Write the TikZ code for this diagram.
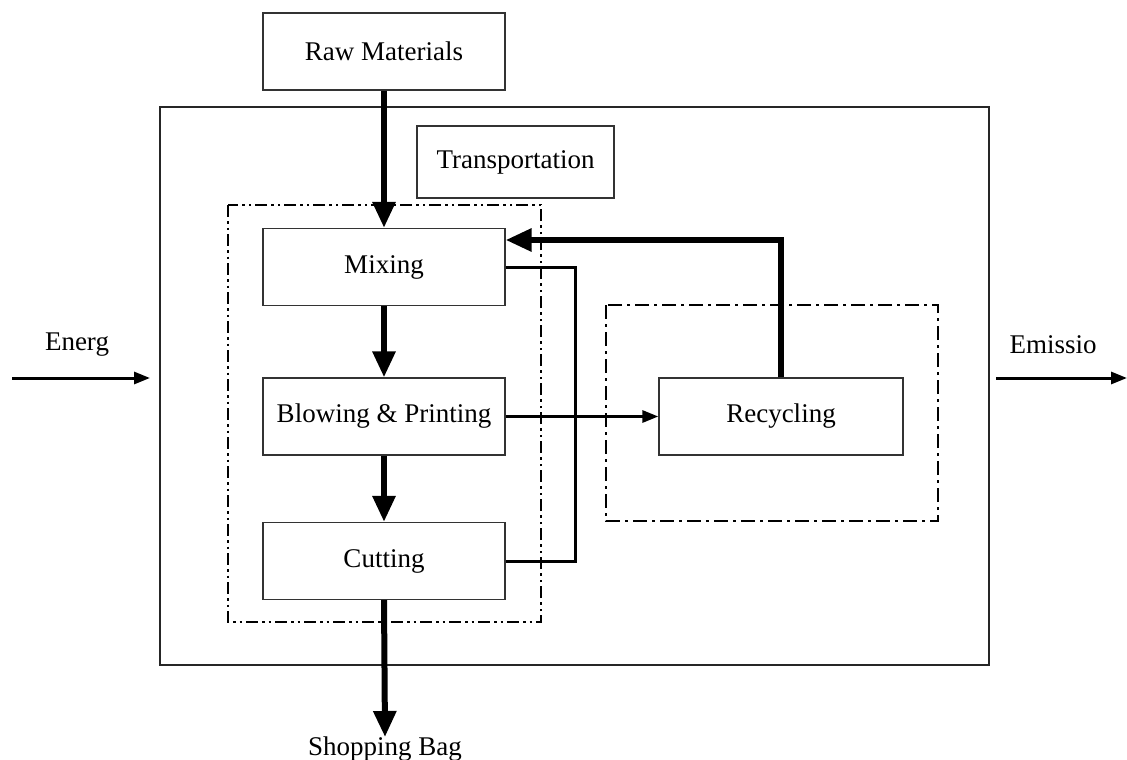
\documentclass[tikz,border=0pt]{standalone}
\usepackage{fontspec}
\setmainfont{Liberation Serif}
\usetikzlibrary{arrows.meta}
\begin{document}
\begin{tikzpicture}[x=1pt,y=-1pt,
  proc/.style={draw=black!80,line width=1.3pt,minimum width=242pt,minimum height=77pt,inner sep=0pt,font=\fontsize{27}{32}\selectfont},
  lbl/.style={inner sep=0pt,font=\fontsize{27}{32}\selectfont},
  thick arrow/.style={line width=6pt,-{Triangle[length=26pt,width=22pt]}},
  mid arrow/.style={line width=3pt,-{Triangle[length=16pt,width=12pt]}},
  midline/.style={line width=3pt},
  dashdotdot/.style={line width=2.2pt,dash pattern=on 12pt off 4pt on 2.5pt off 4pt on 2.5pt off 4pt},
  dashdot/.style={line width=2.2pt,dash pattern=on 14pt off 5pt on 3pt off 5pt}]
\useasboundingbox (0,0) rectangle (1127,760);
% outer system boundary
\draw[line width=2.6pt,black!85] (160,107) rectangle (989,665);
% dashed groups
\draw[dashdotdot] (228,205) rectangle (541,622);
\draw[dashdot] (606,305) rectangle (938,521);
% nodes
\node[proc] (raw) at (384,51.5) {Raw Materials};
\node[proc,minimum width=197pt,minimum height=72pt] (trans) at (515.5,162) {Transportation};
\node[proc] (mix) at (384,267) {Mixing};
\node[proc] (blow) at (384,416.5) {Blowing \& Printing};
\node[proc] (cut) at (384,561) {Cutting};
\node[proc,minimum width=244pt] (rec) at (781,416.5) {Recycling};
\node[lbl] (energ) at (77,345) {Energ};
\node[lbl] (emis) at (1053,345) {Emissio};
\node[lbl,anchor=north] (bag) at (385,737) {Shopping Bag};
\coordinate (ein) at (12,378);
\coordinate (eend) at (150,378);
\coordinate (oin) at (996,378);
\coordinate (oend) at (1127,378);
% main flow
\draw[thick arrow] (raw.south) -- (mix.north);
\draw[thick arrow] (mix.south) -- (blow.north);
\draw[thick arrow] (blow.south) -- (cut.north);
\draw[thick arrow] (cut.south) -- (bag.north);
% recycling loop
\draw[thick arrow] (rec.north) |- ([yshift=27pt]mix.east);
\draw[midline] (mix.east) -| (575,340) |- (cut.east);
\draw[mid arrow] (blow.east) -- (rec.west);
% energy/emissions
\draw[mid arrow] (ein) -- (eend);
\draw[mid arrow] (oin) -- (oend);
\end{tikzpicture}
\end{document}
